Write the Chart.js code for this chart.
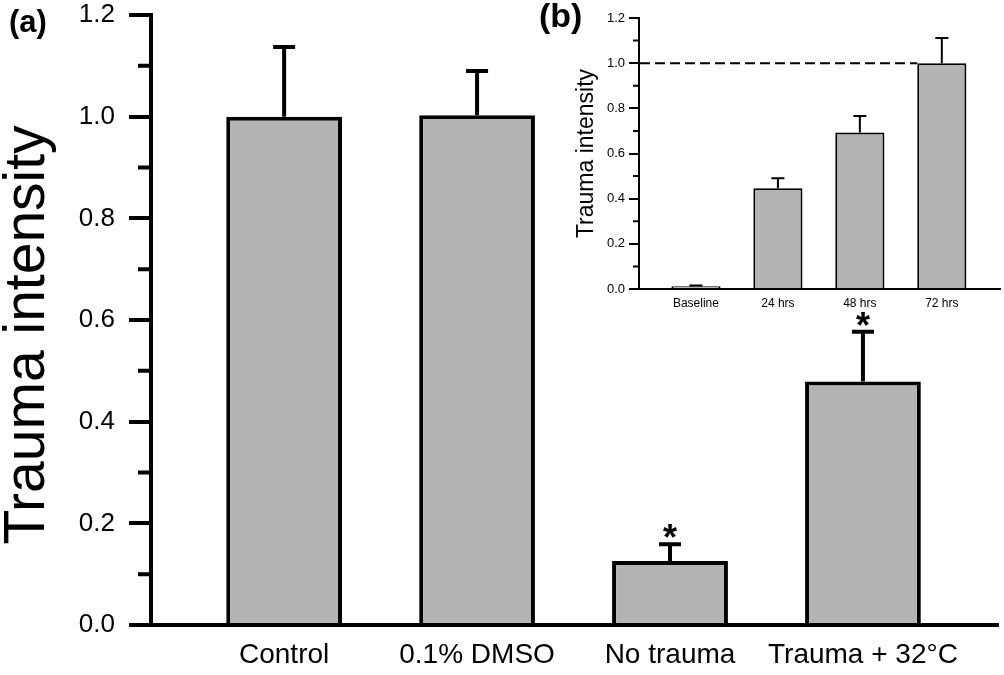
<!DOCTYPE html>
<html><head><meta charset="utf-8">
<script src="https://cdn.jsdelivr.net/npm/chart.js@4.4.0/dist/chart.umd.min.js"></script>
<style>
html,body{margin:0;padding:0;background:#fff;}
#wrap{position:relative;width:1004px;height:675px;overflow:hidden;background:#fff;}
#main{position:absolute;left:0;top:0;}
#inset{position:absolute;left:540px;top:0;}
.panel{position:absolute;font-family:'Liberation Sans',Arial,sans-serif;font-weight:bold;color:#000;line-height:1;}
</style></head><body>
<div id="wrap">
<canvas id="main" width="1004" height="675"></canvas>
<canvas id="inset" width="464" height="320"></canvas>
<div class="panel" style="left:9px;top:6px;font-size:31px">(a)</div>
<div class="panel" style="left:539px;top:-2px;font-size:34px">(b)</div>
</div>
<script>
// ---- data ----
const mainCategories = ['Control', '0.1% DMSO', 'No trauma', 'Trauma + 32°C'];
const mainValues = [1.0, 1.003, 0.126, 0.479];
const mainErrors = [0.137, 0.087, 0.033, 0.098];
const mainMarks = ['', '', '*', '*'];
const mainYTicks = [0, 0.2, 0.4, 0.6, 0.8, 1.0, 1.2];
const mainYMinor = [0.1, 0.3, 0.5, 0.7, 0.9, 1.1];

const insetCategories = ['Baseline', '24 hrs', '48 hrs', '72 hrs'];
const insetValues = [0.012, 0.446, 0.693, 1.0];
const insetErrors = [0.004, 0.044, 0.073, 0.111];
const insetYTicks = [0, 0.2, 0.4, 0.6, 0.8, 1.0, 1.2];
const insetYMinor = [0.1, 0.3, 0.5, 0.7, 0.9, 1.1];
const insetReference = 1.0;

const yTitle = 'Trauma intensity';
const FONT = "'Liberation Sans', Arial, sans-serif";

function makeDecor(cfg) {
  return {
    id: 'decor',
    beforeDatasetsDraw(chart) {
      if (cfg.dashAt == null) return;
      const ctx = chart.ctx, y = chart.scales.y.getPixelForValue(cfg.dashAt);
      const bars = chart.getDatasetMeta(0).data;
      const last = bars[bars.length - 1];
      ctx.save();
      ctx.setLineDash(cfg.dash);
      ctx.lineWidth = cfg.dashWidth;
      ctx.strokeStyle = '#000';
      ctx.beginPath();
      ctx.moveTo(chart.chartArea.left + 1, y);
      ctx.lineTo(last.x - last.width / 2, y);
      ctx.stroke();
      ctx.restore();
    },
    afterDatasetsDraw(chart) {
      const ctx = chart.ctx, ys = chart.scales.y;
      const bars = chart.getDatasetMeta(0).data;
      ctx.save();
      ctx.strokeStyle = '#000';
      ctx.lineWidth = cfg.errWidth;
      ctx.lineCap = 'butt';
      bars.forEach((el, i) => {
        const top = ys.getPixelForValue(cfg.values[i] + cfg.errors[i]);
        ctx.beginPath();
        ctx.moveTo(el.x, el.y);
        ctx.lineTo(el.x, top);
        ctx.moveTo(el.x - cfg.capHalf, top);
        ctx.lineTo(el.x + cfg.capHalf, top);
        ctx.stroke();
        if (cfg.marks && cfg.marks[i]) {
          ctx.fillStyle = '#000';
          ctx.font = cfg.markFont;
          ctx.textAlign = 'center';
          ctx.textBaseline = 'alphabetic';
          ctx.fillText(cfg.marks[i], el.x, top + cfg.markOffset);
        }
      });
      ctx.restore();
    },
    afterDraw(chart) {
      const ctx = chart.ctx, ys = chart.scales.y, area = chart.chartArea;
      const x = area.left - cfg.axisWidth / 2;
      ctx.save();
      ctx.strokeStyle = '#000';
      ctx.lineWidth = cfg.axisWidth;
      ctx.beginPath();
      cfg.minor.forEach(v => {
        const y = ys.getPixelForValue(v);
        ctx.moveTo(x - cfg.minorLen, y);
        ctx.lineTo(x, y);
      });
      ctx.stroke();
      // rotated y-axis title
      ctx.translate(cfg.titleX, (area.top + area.bottom) / 2 + cfg.titleShift);
      ctx.rotate(-Math.PI / 2);
      ctx.fillStyle = '#000';
      ctx.font = cfg.titleFont + 'px ' + FONT;
      ctx.textAlign = 'center';
      ctx.textBaseline = 'middle';
      ctx.fillText(yTitle, 0, 0);
      ctx.restore();
    }
  };
}

function makeChart(canvas, o) {
  return new Chart(canvas, {
    type: 'bar',
    data: {
      datasets: [{
        data: o.values.map((v, i) => ({x: i, y: v})),
        backgroundColor: '#b3b3b3',
        borderColor: '#000',
        borderWidth: o.barBorder,
        barPercentage: 0.6,
        categoryPercentage: 1
      }]
    },
    options: {
      responsive: false,
      animation: false,
      devicePixelRatio: 1,
      layout: {padding: o.padding},
      plugins: {legend: {display: false}, tooltip: {enabled: false}},
      scales: {
        x: {
          type: 'linear', min: o.xMin, max: o.xMax, z: 1, offset: false,
          afterBuildTicks: s => { s.ticks = o.categories.map((c, i) => ({value: i})); },
          afterFit: s => { s.height = o.xHeight; },
          grid: {display: false, drawTicks: false, offset: false},
          border: {display: true, width: o.axisWidth, color: '#000'},
          ticks: {
            autoSkip: false, maxRotation: 0, minRotation: 0, padding: o.xPad, color: '#000',
            font: {family: FONT, size: o.xFont},
            callback: v => o.categories[v]
          }
        },
        y: {
          min: 0, max: 1.2, z: 1,
          afterBuildTicks: s => { s.ticks = o.yTicks.map(v => ({value: v})); },
          afterFit: s => { s.width = o.yWidth; s.paddingTop = 0; s.paddingBottom = 0; },
          grid: {display: true, drawOnChartArea: false, drawTicks: true, tickLength: o.tickLen, lineWidth: o.axisWidth, color: '#000'},
          border: {display: true, width: o.axisWidth, color: '#000'},
          ticks: {padding: o.yPad, color: '#000', font: {family: FONT, size: o.yFont}, callback: v => Number(v).toFixed(1)},
          title: {display: false}
        }
      }
    },
    plugins: [makeDecor(o.decor)]
  });
}

makeChart(document.getElementById('main'), {
  values: mainValues, categories: mainCategories, yTicks: mainYTicks,
  barBorder: 4, axisWidth: 4, tickLen: 22,
  padding: {left: 0, top: 15, right: 6, bottom: 0},
  xMin: -0.69, xMax: 3.70, xHeight: 50, yWidth: 151,
  xPad: 13, xFont: 28, yPad: 14, yFont: 26,
  decor: {values: mainValues, errors: mainErrors, marks: mainMarks, errWidth: 4, capHalf: 11,
          markFont: "bold 36px " + FONT, markOffset: 6, minor: mainYMinor, minorLen: 11, axisWidth: 4, dashAt: null,
          titleX: 28, titleShift: 15, titleFont: 57}
});

makeChart(document.getElementById('inset'), {
  values: insetValues, categories: insetCategories, yTicks: insetYTicks,
  barBorder: 2, axisWidth: 2, tickLen: 10,
  padding: {left: 0, top: 18, right: 4, bottom: 0},
  xMin: -0.695, xMax: 3.71, xHeight: 31, yWidth: 99,
  xPad: 7, xFont: 12, yPad: 4, yFont: 13,
  decor: {values: insetValues, errors: insetErrors, marks: null, errWidth: 2, capHalf: 6.5,
          minor: insetYMinor, minorLen: 5, axisWidth: 2, dashAt: insetReference, dash: [10, 5], dashWidth: 2,
          titleX: 47, titleShift: 0, titleFont: 23}
});
</script>
</body></html>
